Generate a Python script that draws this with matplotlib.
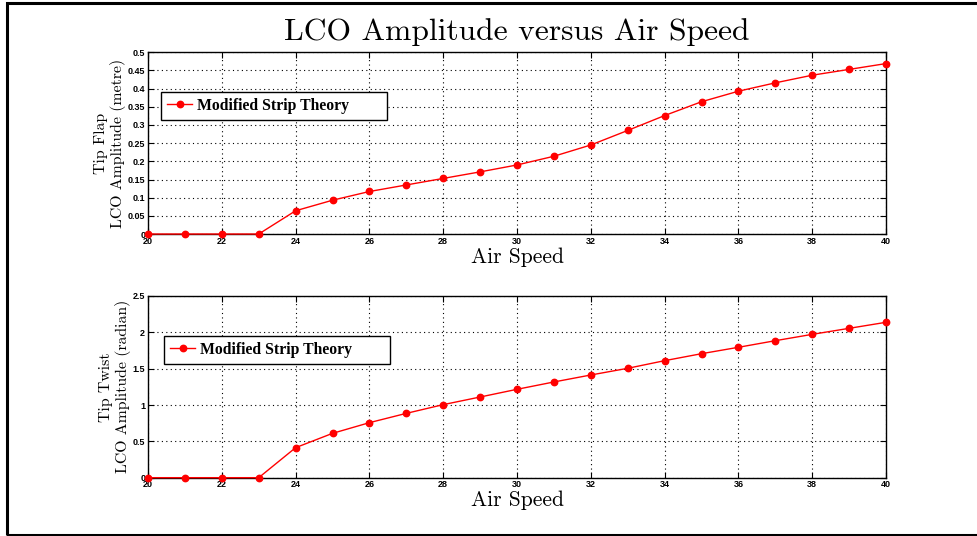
import matplotlib
matplotlib.use('Agg')
import matplotlib.pyplot as plt
from matplotlib.ticker import FormatStrFormatter, MultipleLocator
from matplotlib.patches import Rectangle

air_speed = list(range(20, 41))
tip_flap = [0, 0, 0, 0, 0.064, 0.093, 0.117, 0.135, 0.153, 0.171, 0.190,
            0.214, 0.245, 0.285, 0.326, 0.364, 0.393, 0.416, 0.437, 0.453, 0.469]
tip_twist = [0, 0, 0, 0, 0.413, 0.61, 0.757, 0.885, 1.005, 1.11, 1.216,
             1.317, 1.413, 1.505, 1.61, 1.706, 1.794, 1.885, 1.972, 2.055, 2.138]

series_name = 'Modified Strip Theory'
ylabels = ['Tip Flap\nLCO Amplitude (metre)', 'Tip Twist\nLCO Amplitude (radian)']

serif = 'cmr10'
plt.rcParams['axes.formatter.use_mathtext'] = True

fig = plt.figure(figsize=(9.77, 5.36), dpi=100)

# outer frame (top, left and bottom edges)
fig.add_artist(Rectangle((7 / 977, 1 - 535 / 536), 1.0, (533 - 2) / 536 + 0.001,
                         transform=fig.transFigure, fill=False, edgecolor='black',
                         linewidth=2.2, clip_on=False))

ax1 = fig.add_axes([0.1515, 0.5634, 0.7554, 0.339])
ax2 = fig.add_axes([0.1515, 0.1088, 0.7554, 0.339])

setups = [
    (ax1, tip_flap, 0.5, 0.05, ylabels[0], (0.0176, 0.783)),
    (ax2, tip_twist, 2.5, 0.5, ylabels[1], (0.0217, 0.78)),
]

for ax, values, ymax, ystep, ylab, leg_anchor in setups:
    ax.plot(air_speed, values, '-o', color='red', linewidth=1.0,
            markersize=4.6, label=series_name, clip_on=False, zorder=5)
    ax.set_xlim(20, 40)
    ax.set_ylim(0, ymax)
    ax.xaxis.set_major_locator(MultipleLocator(2))
    ax.yaxis.set_major_locator(MultipleLocator(ystep))
    ax.xaxis.set_major_formatter(FormatStrFormatter('%g'))
    ax.yaxis.set_major_formatter(FormatStrFormatter('%g'))
    ax.grid(True, linestyle=(0, (1, 3)), color='black', linewidth=0.8)
    ax.tick_params(direction='in', length=4, width=0.8, top=True, right=True,
                   pad=2, labelsize=6.5)
    for lbl in ax.get_xticklabels() + ax.get_yticklabels():
        lbl.set_fontweight('bold')
        lbl.set_family('Liberation Sans')
    for s in ax.spines.values():
        s.set_linewidth(1.0)
    ax.set_xlabel('Air Speed', fontfamily=serif, fontsize=15.5, labelpad=1)
    ax.set_ylabel(ylab, fontfamily=serif, fontsize=11.4, labelpad=1.5,
                  linespacing=1.1)
    leg = ax.legend(loc='upper left', bbox_to_anchor=leg_anchor, fancybox=False,
                    edgecolor='black', framealpha=1, handlelength=1.6,
                    borderpad=0.38, handletextpad=0.3, borderaxespad=0,
                    prop={'family': 'Liberation Serif', 'weight': 'bold', 'size': 11.3})
    leg.get_frame().set_linewidth(1.0)
    leg.set_zorder(10)
    # legend box is wider than its text
    leg_text = leg.get_texts()[0]
    leg_text.set_text(series_name + ' ' * 8)

fig.text(0.529, 1 - 32 / 536, 'LCO Amplitude versus Air Speed', fontfamily=serif,
         fontsize=22.7, ha='center', va='center')

fig.savefig('out.png', dpi=100)
